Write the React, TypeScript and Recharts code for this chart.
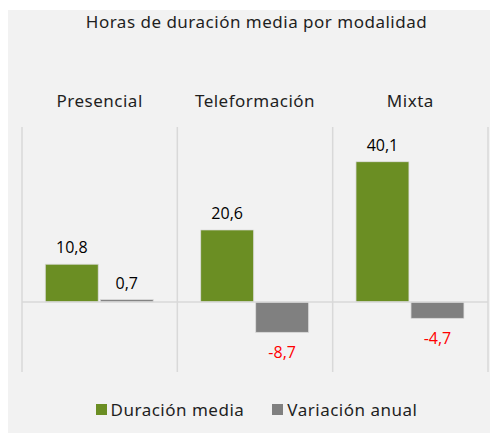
import React from "react";
import {
  BarChart,
  Bar,
  XAxis,
  YAxis,
  CartesianGrid,
  ReferenceLine,
  LabelList,
} from "recharts";

const modalidades = ["Presencial", "Teleformación", "Mixta"];
const duracionMedia = [10.8, 20.6, 40.1];
const variacionAnual = [0.7, -8.7, -4.7];

const GREEN = "#6b8e23";
const GREY = "#808080";
const GRID = "#d9d9d9";
const TEXT = "#1f1f1f";
const GEO_FONT = "'Noto Sans', sans-serif";
const LABEL_FONT = "'Open Sans', sans-serif";

const data = modalidades.map((name, i) => ({
  name,
  duracion: duracionMedia[i],
  variacion: variacionAnual[i],
}));

const fmt = (v: number) => v.toFixed(1).replace(".", ",");

function ValueLabel(props: any) {
  const { x, y, width, height, value } = props;
  const top = Math.min(y, y + height);
  const bottom = Math.max(y, y + height);
  const neg = value < 0;
  return (
    <text
      x={x + width / 2}
      y={neg ? bottom + 20 : top - 17}
      textAnchor="middle"
      dominantBaseline="central"
      fontFamily={LABEL_FONT}
      fontSize={16}
      fill={neg ? "#ff0000" : "#000000"}
    >
      {fmt(value)}
    </text>
  );
}

function CategoryTick(props: any) {
  const { x, payload } = props;
  return (
    <text
      x={x}
      y={90}
      textAnchor="middle"
      dominantBaseline="central"
      fontFamily={GEO_FONT}
      fontSize={17}
      letterSpacing={0.5}
      fill={TEXT}
    >
      {payload.value}
    </text>
  );
}

export default function App() {
  const W = 491;
  const H = 425;
  return (
    <div
      style={{
        position: "relative",
        left: -1,
        top: 2,
        width: W,
        height: H,
        background: "#f2f2f2",
      }}
    >
      <div
        style={{
          position: "absolute",
          top: 0,
          width: "100%",
          textAlign: "center",
          fontFamily: GEO_FONT,
          fontSize: 17,
          letterSpacing: 0.5,
          color: TEXT,
          paddingLeft: 8,
          boxSizing: "border-box",
        }}
      >
        Horas de duración media por modalidad
      </div>

      <BarChart
        width={W}
        height={H}
        data={data}
        margin={{ top: 87, right: 10, bottom: 63, left: 15 }}
        barCategoryGap="15%"
        barGap={2}
      >
        <CartesianGrid
          horizontal={false}
          stroke={GRID}
          strokeWidth={1.5}
          verticalCoordinatesGenerator={({ offset }: any) =>
            [0, 1, 2, 3].map(
              (i) => offset.left + (i * offset.width) / modalidades.length
            )
          }
        />
        <XAxis
          dataKey="name"
          orientation="top"
          axisLine={false}
          tickLine={false}
          tick={<CategoryTick />}
          height={30}
        />
        <YAxis hide domain={[-20, 50]} />
        <ReferenceLine y={0} stroke={GRID} strokeWidth={1.5} />
        <Bar
          dataKey="duracion"
          fill={GREEN}
          stroke="#e0e0e0"
          strokeWidth={0.8}
          isAnimationActive={false}
        >
          <LabelList dataKey="duracion" content={<ValueLabel />} />
        </Bar>
        <Bar
          dataKey="variacion"
          fill={GREY}
          stroke="#e0e0e0"
          strokeWidth={0.8}
          isAnimationActive={false}
        >
          <LabelList dataKey="variacion" content={<ValueLabel />} />
        </Bar>
      </BarChart>

      <div
        style={{
          position: "absolute",
          top: 388,
          width: "100%",
          display: "flex",
          justifyContent: "center",
          alignItems: "center",
          fontFamily: GEO_FONT,
          fontSize: 17,
          letterSpacing: 0.5,
          color: TEXT,
          paddingLeft: 8,
          boxSizing: "border-box",
        }}
      >
        <span style={{ display: "inline-flex", alignItems: "center" }}>
          <span
            style={{
              width: 11,
              height: 11,
              background: GREEN,
              marginRight: 4,
              display: "inline-block",
            }}
          />
          Duración media
        </span>
        <span
          style={{ display: "inline-flex", alignItems: "center", marginLeft: 28 }}
        >
          <span
            style={{
              width: 11,
              height: 11,
              background: GREY,
              marginRight: 4,
              display: "inline-block",
            }}
          />
          Variación anual
        </span>
      </div>
    </div>
  );
}
